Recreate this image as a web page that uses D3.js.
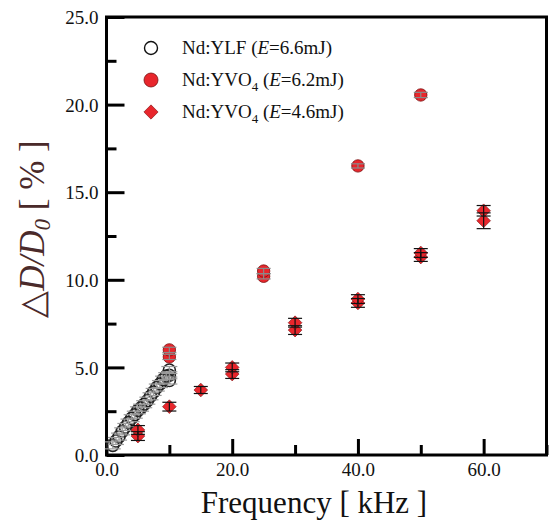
<!DOCTYPE html>
<html>
<head>
<meta charset="utf-8">
<script src="https://cdn.jsdelivr.net/npm/d3@7"></script>
<style>
  body { margin: 0; background: #fff; }
</style>
</head>
<body>
<svg id="chart" width="552" height="522"></svg>
<script>
// Nd:YLF (E=6.6mJ) - open circles
const ylfFreq = [1, 1.5, 2, 2.5, 3, 3.5, 4, 4.5, 5, 5.5, 6, 6.5, 7, 7.5, 8, 8.5, 9, 9.5, 10, 10, 10];
const ylfVal  = [0.55, 0.8, 1.05, 1.35, 1.6, 1.85, 2.1, 2.3, 2.55, 2.7, 2.9, 3.1, 3.35, 3.6, 3.85, 4.05, 4.3, 4.5, 4.25, 4.55, 4.85];
const ylfErr  = [0.2, 0.2, 0.2, 0.2, 0.2, 0.2, 0.2, 0.2, 0.2, 0.2, 0.2, 0.2, 0.2, 0.2, 0.2, 0.2, 0.2, 0.2, 0.2, 0.2, 0.2];

// Nd:YVO4 (E=6.2mJ) - filled circles
const vo62Freq = [10, 10, 25, 25, 40, 50];
const vo62Val  = [5.6, 6.0, 10.2, 10.5, 16.5, 20.55];
const vo62Err  = [0.15, 0.15, 0.15, 0.15, 0.12, 0.15];

// Nd:YVO4 (E=4.6mJ) - diamonds
const vo46Freq = [5, 5, 10, 15, 20, 20, 30, 30, 40, 40, 50, 50, 60, 60];
const vo46Val  = [1.08, 1.43, 2.76, 3.71, 4.62, 5.0, 7.13, 7.55, 8.68, 8.9, 11.3, 11.53, 13.37, 13.94];
const vo46Err  = [0.25, 0.25, 0.25, 0.2, 0.25, 0.25, 0.25, 0.25, 0.25, 0.25, 0.25, 0.25, 0.45, 0.3];

const xTicks = [0, 10, 20, 30, 40, 50, 60, 70];
const xLabels = [0, 20, 40, 60];
const yTicks = [0, 2.5, 5, 7.5, 10, 12.5, 15, 17.5, 20, 22.5, 25];
const yLabels = [0, 5, 10, 15, 20, 25];

const svg = d3.select("#chart");
const mLeft = 106.5, mRight = 546.5, mTop = 17, mBottom = 455;

const x = d3.scaleLinear().domain([0, 70]).range([mLeft, mRight]);
const y = d3.scaleLinear().domain([0, 25]).range([mBottom, mTop]);

const pts = (f, v, e) => f.map((d, i) => ({ f: d, v: v[i], e: e[i] }));
const ylf = pts(ylfFreq, ylfVal, ylfErr);
const vo62 = pts(vo62Freq, vo62Val, vo62Err);
const vo46 = pts(vo46Freq, vo46Val, vo46Err);

// ticks (inward)
const xAxis = d3.axisBottom(x).tickValues(xTicks)
  .tickSizeInner(0).tickSizeOuter(0).tickFormat(d => xLabels.includes(d) ? d.toFixed(1) : "");
const gx = svg.append("g").attr("transform", `translate(0,${mBottom})`).call(xAxis);
gx.select(".domain").remove();
gx.selectAll(".tick line").attr("y2", d => xLabels.includes(d) ? -16 : -10)
  .attr("stroke", "#000").attr("stroke-width", 3);
gx.selectAll(".tick text").attr("y", 8).attr("dy", "0.71em")
  .attr("font-size", 19).attr("fill", "#111");

const yAxis = d3.axisLeft(y).tickValues(yTicks)
  .tickSizeInner(0).tickSizeOuter(0).tickFormat(d => yLabels.includes(d) ? d.toFixed(1) : "");
const gy = svg.append("g").attr("transform", `translate(${mLeft},0)`).call(yAxis);
gy.select(".domain").remove();
gy.selectAll(".tick line").attr("x2", d => yLabels.includes(d) ? 18 : 10)
  .attr("stroke", "#000").attr("stroke-width", 3);
gy.selectAll(".tick text").attr("x", -8).attr("dy", "0.35em")
  .attr("font-size", 19).attr("fill", "#111");

// frame
svg.append("rect")
  .attr("x", mLeft).attr("y", mTop)
  .attr("width", mRight - mLeft).attr("height", mBottom - mTop)
  .attr("fill", "none").attr("stroke", "#000").attr("stroke-width", 3);

// error bar helper
function errorBars(data, color, cap) {
  const g = svg.append("g").attr("stroke", color).attr("stroke-width", 1.2);
  g.selectAll(".v").data(data).join("line")
    .attr("x1", d => x(d.f)).attr("x2", d => x(d.f))
    .attr("y1", d => y(d.v - d.e)).attr("y2", d => y(d.v + d.e));
  g.selectAll(".t").data(data).join("line")
    .attr("x1", d => x(d.f) - cap).attr("x2", d => x(d.f) + cap)
    .attr("y1", d => y(d.v + d.e)).attr("y2", d => y(d.v + d.e));
  g.selectAll(".b").data(data).join("line")
    .attr("x1", d => x(d.f) - cap).attr("x2", d => x(d.f) + cap)
    .attr("y1", d => y(d.v - d.e)).attr("y2", d => y(d.v - d.e));
}

// YLF open circles
svg.append("g").selectAll("circle").data(ylf).join("circle")
  .attr("cx", d => x(d.f)).attr("cy", d => y(d.v)).attr("r", 6)
  .attr("fill", "none").attr("stroke", "#222").attr("stroke-width", 1.6);
errorBars(ylf, "#9a9a9a", 8);

// YVO4 6.2 mJ filled circles
svg.append("g").selectAll("circle").data(vo62).join("circle")
  .attr("cx", d => x(d.f)).attr("cy", d => y(d.v)).attr("r", 6.2)
  .attr("fill", "#e8262c").attr("stroke", "#7a1010").attr("stroke-width", 0.8);
errorBars(vo62, "#8a8a8a", 7);

// YVO4 4.6 mJ diamonds
const diamond = d3.symbol().type(d3.symbolDiamond2).size(120);
svg.append("g").selectAll("path").data(vo46).join("path")
  .attr("transform", d => `translate(${x(d.f)},${y(d.v)})`)
  .attr("d", diamond)
  .attr("fill", "#e8262c").attr("stroke", "#7a1010").attr("stroke-width", 0.6);
errorBars(vo46, "#111", 7);

// legend
const legend = svg.append("g").attr("font-size", 19).attr("fill", "#111");
const legY = [48, 80, 112];
legend.append("circle").attr("cx", 151).attr("cy", legY[0]).attr("r", 6.5)
  .attr("fill", "none").attr("stroke", "#111").attr("stroke-width", 1.4);
legend.append("circle").attr("cx", 151).attr("cy", legY[1]).attr("r", 7)
  .attr("fill", "#e8262c").attr("stroke", "#7a1010").attr("stroke-width", 0.8);
legend.append("path").attr("transform", `translate(151,${legY[2]})`)
  .attr("d", d3.symbol().type(d3.symbolDiamond2).size(130))
  .attr("fill", "#e8262c").attr("stroke", "#7a1010").attr("stroke-width", 0.6);

const t1 = legend.append("text").attr("x", 182).attr("y", legY[0] + 6);
t1.append("tspan").text("Nd:YLF (");
t1.append("tspan").attr("font-style", "italic").text("E");
t1.append("tspan").text("=6.6mJ)");

[["6.2", legY[1]], ["4.6", legY[2]]].forEach(([e, yy]) => {
  const t = legend.append("text").attr("x", 182).attr("y", yy + 6);
  t.append("tspan").text("Nd:YVO");
  t.append("tspan").attr("font-size", 13).attr("dy", 5).text("4");
  t.append("tspan").attr("dy", -5).text(" (");
  t.append("tspan").attr("font-style", "italic").text("E");
  t.append("tspan").text(`=${e}mJ)`);
});

// axis titles
svg.append("text").attr("x", 314).attr("y", 513).attr("text-anchor", "middle")
  .attr("font-size", 31).attr("fill", "#111").text("Frequency [ kHz ]");

const yt = svg.append("text").attr("x", 0).attr("y", 0)
  .attr("font-size", 35).attr("fill", "#4a2a2a");
yt.append("tspan").text("\u25B3");
yt.append("tspan").attr("font-style", "italic").text("D/D");
yt.append("tspan").attr("font-style", "italic").attr("font-size", 23).attr("dy", 6).text("0");
yt.append("tspan").attr("dy", -6).text(" [ % ]");

// serif everywhere
svg.selectAll("text").style("font-family", '"Liberation Serif", serif');

// place the rotated title (centre sits a little above the plot middle)
const ytLen = yt.node().getComputedTextLength();
yt.attr("transform", `translate(44,${229 + ytLen / 2}) rotate(-90)`);
</script>
</body>
</html>
